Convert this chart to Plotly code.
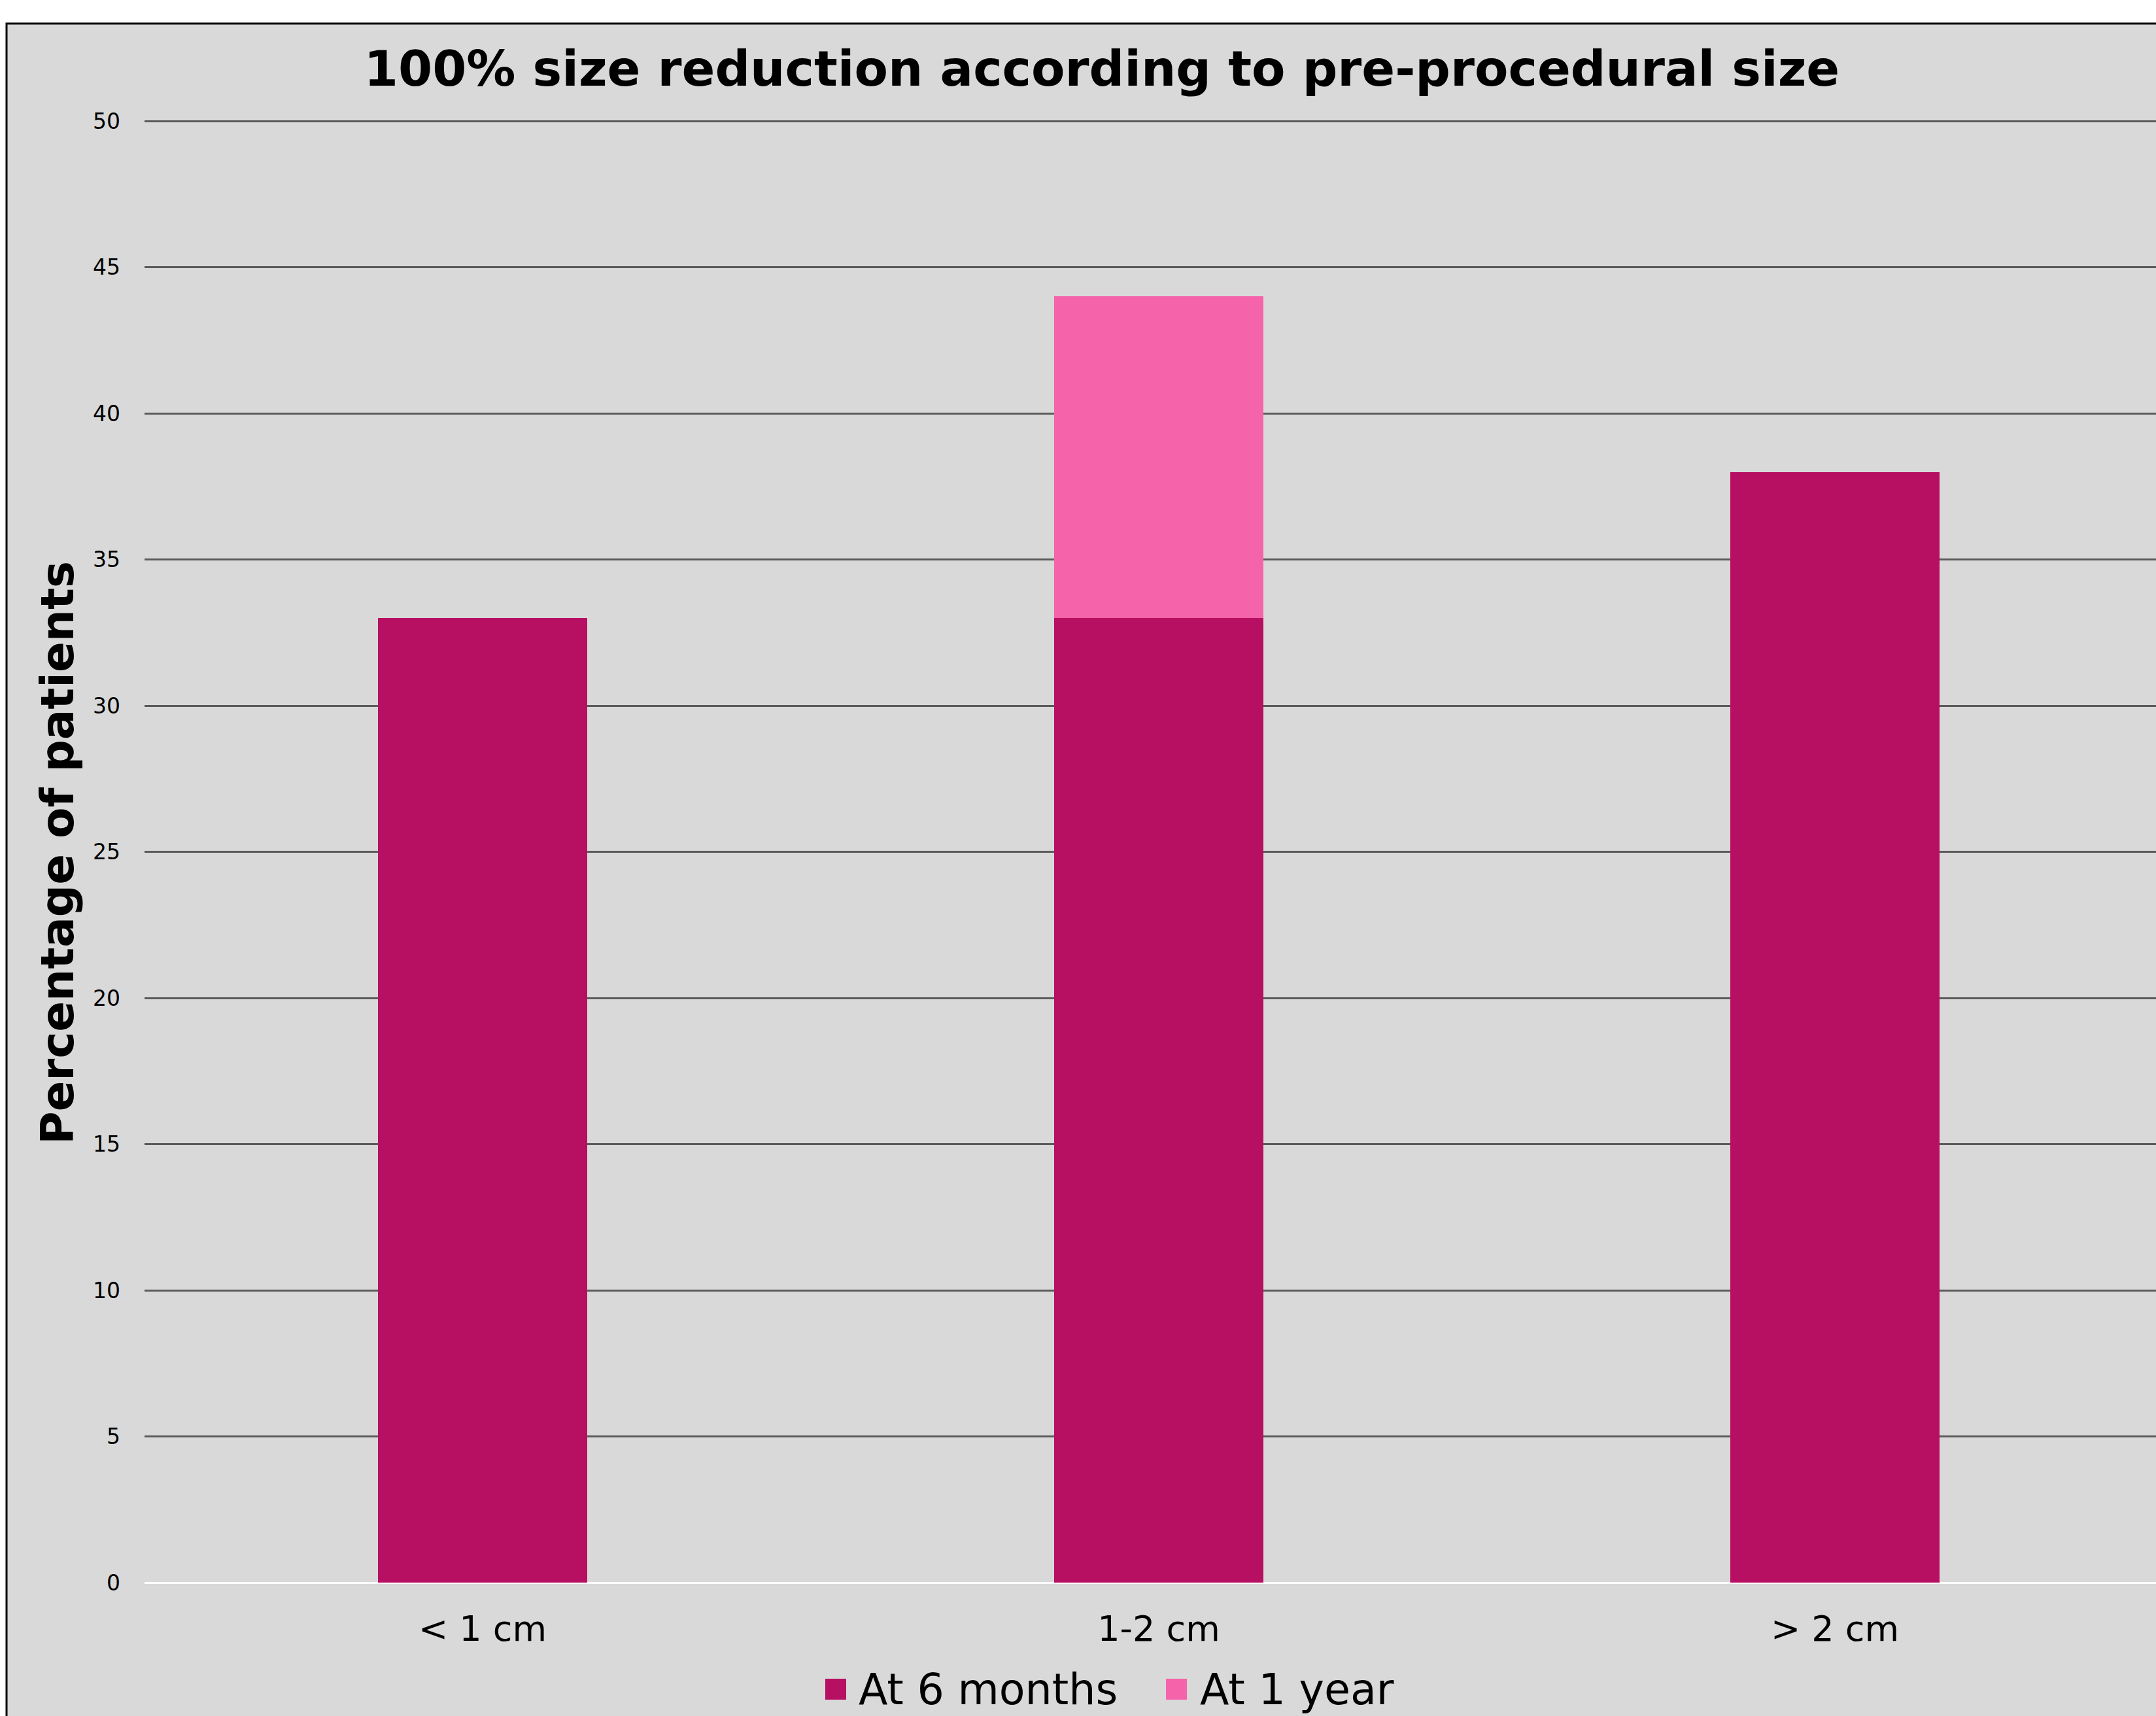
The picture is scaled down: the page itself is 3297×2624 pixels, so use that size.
import plotly.graph_objects as go

# Data
categories = ["< 1 cm", "1-2 cm", "> 2 cm"]
series_names = ["At 6 months", "At 1 year"]
at_6_months = [33, 33, 38]
at_1_year = [0, 11, 0]          # additional share reached by one year (stacked)
y_ticks = [0, 5, 10, 15, 20, 25, 30, 35, 40, 45, 50]

colors = ["#B70F62", "#F563AA"]
bg = "#D9D9D9"

W, H = 3297, 2624
L, R, T, B = 221, 0, 183, 204          # plot-area margins in px
PW, PH = W - L - R, H - T - B
Y_MAX = 50.05                          # a hair above 50 so the top gridline is drawn


def px_x(x):
    return (x - L) / PW


def px_y(y):
    return (H - B - y) / PH


fig = go.Figure()
for name, vals, col in zip(series_names, [at_6_months, at_1_year], colors):
    fig.add_trace(go.Bar(
        x=categories, y=vals, name=name,
        marker=dict(color=col, line=dict(width=0)),
        showlegend=False,
    ))

font_family = "DejaVu Sans"

# Framed grey chart area (frame visible on top and left edges)
shapes = [dict(
    type="rect", xref="paper", yref="paper", layer="below",
    x0=px_x(10), x1=1.2, y0=-0.3, y1=px_y(36),
    fillcolor=bg, line=dict(color="black", width=3),
)]

# Legend swatches and labels along the bottom
legend_items = [(1262, 1311), (1783, 1833)]
annotations = []
for (sx, tx), name, col in zip(legend_items, series_names, colors):
    shapes.append(dict(
        type="rect", xref="paper", yref="paper",
        x0=px_x(sx), x1=px_x(sx + 32), y0=px_y(2599), y1=px_y(2567),
        fillcolor=col, line=dict(width=0),
    ))
    annotations.append(dict(
        text=name, xref="paper", yref="paper", x=px_x(tx), y=px_y(2583),
        xanchor="left", yanchor="middle", showarrow=False,
        font=dict(family=font_family, size=65, color="black"),
    ))

# Y axis title
annotations.append(dict(
    text="<b>Percentage of patients</b>", xref="paper", yref="paper",
    x=px_x(88), y=px_y(1304), xanchor="center", yanchor="middle",
    textangle=-90, showarrow=False,
    font=dict(family=font_family, size=69, color="black"),
))

fig.update_layout(
    width=W, height=H,
    margin=dict(l=L, r=R, t=T, b=B, pad=0),
    paper_bgcolor="white",
    plot_bgcolor="rgba(0,0,0,0)",
    barmode="stack",
    bargap=0.69,
    title=dict(
        text="<b>100% size reduction according to pre-procedural size</b>",
        xref="container", x=1685 / W, xanchor="center",
        yref="container", y=1 - 105 / H, yanchor="middle",
        font=dict(family=font_family, size=75, color="black"),
    ),
    xaxis=dict(
        range=[-0.5, -0.5 + PW / 1034],
        showgrid=False, showline=False, zeroline=False, ticks="",
        tickfont=dict(family=font_family, size=54, color="black"),
        ticklabelstandoff=34,
    ),
    yaxis=dict(
        range=[0, Y_MAX], tickvals=y_ticks,
        showgrid=True, gridcolor="#5A5A5A", gridwidth=2.5,
        zeroline=True, zerolinecolor="white", zerolinewidth=3,
        showline=False, ticks="",
        tickfont=dict(family=font_family, size=33, color="black"),
        ticklabelstandoff=36,
    ),
    shapes=shapes,
    annotations=annotations,
    showlegend=False,
)

fig.write_html("out.html")
